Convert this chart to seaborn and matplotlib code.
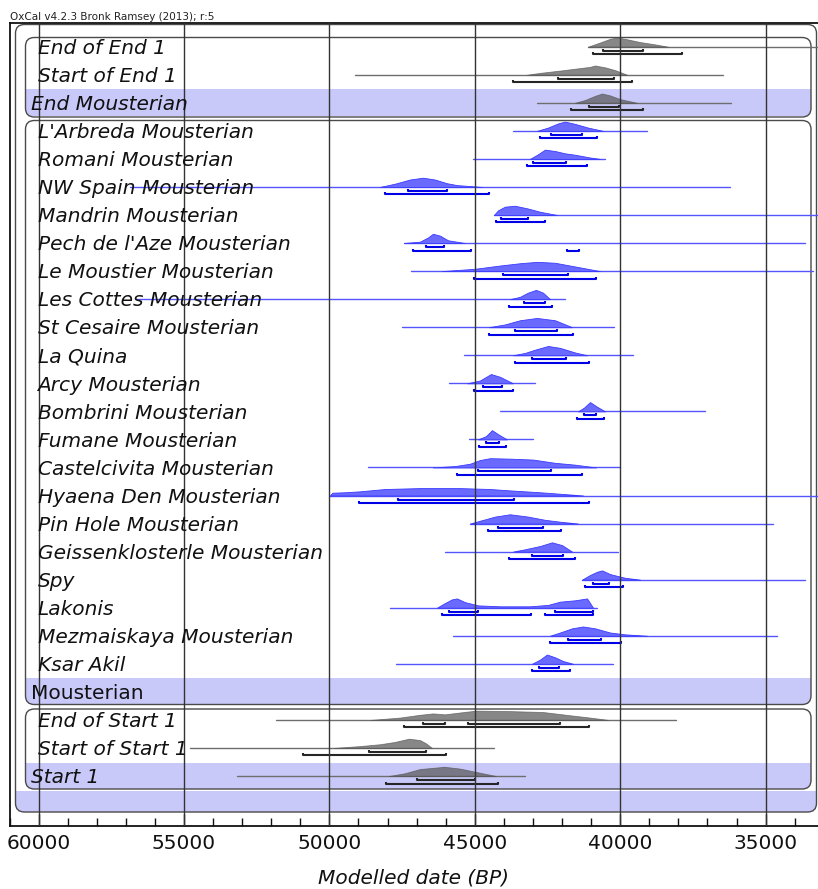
import matplotlib
matplotlib.use("Agg")
import numpy as np
import pandas as pd
import seaborn as sns
import matplotlib.pyplot as plt
from matplotlib.patches import FancyBboxPatch, Rectangle
from matplotlib.transforms import blended_transform_factory

# ---------------- data (years BP) ----------------
labels = ["End of End 1", "Start of End 1", "End Mousterian", "L'Arbreda Mousterian",
          "Romani Mousterian", "NW Spain Mousterian", "Mandrin Mousterian",
          "Pech de l'Aze Mousterian", "Le Moustier Mousterian", "Les Cottes Mousterian",
          "St Cesaire Mousterian", "La Quina", "Arcy Mousterian", "Bombrini Mousterian",
          "Fumane Mousterian", "Castelcivita Mousterian", "Hyaena Den Mousterian",
          "Pin Hole Mousterian", "Geissenklosterle Mousterian", "Spy", "Lakonis",
          "Mezmaiskaya Mousterian", "Ksar Akil", "Mousterian", "End of Start 1",
          "Start of Start 1", "Start 1", ""]

line_lo = [41108, 49123, 42862, 43688, 45064, 56863, 44342, 47437, 47196, 56622, 47506,
           45373, 45890, 44135, 45202, 48676, 49983, 45167, 46027, 41314, 47919, 45752,
           47712, None, 51841, 54799, 53182, None]
line_hi = [33000, 36464, 36189, 39078, 40523, 36223, 33000, 33644, 33367, 41899, 40214,
           39560, 42931, 37083, 43000, 40007, 33000, 34744, 40076, 33644, 40798, 34607,
           40248, None, 38080, 44342, 43275, None]

range68 = [[(40592, 39216)], [(42140, 40214)], [(41074, 40042)], [(42381, 41314)],
           [(43000, 41865)], [(47300, 45958)], [(44101, 43172)], [(46681, 46061)],
           [(44032, 41796)], [(43309, 42587)], [(43619, 42174)], [(43034, 41865)],
           [(44720, 44066)], [(41246, 40833)], [(44617, 44170)], [(44892, 42381)],
           [(47643, 43653)], [(44204, 42656)], [(43034, 41968)], [(40936, 40385)],
           [(45890, 44892), (42243, 40936)], [(41796, 40661)], [(42793, 42105)], [],
           [(46784, 46027), (45236, 42071)], [(48641, 46681)], [(46990, 44995)], []]

range95 = [[(40936, 37874)], [(43688, 39595)], [(41693, 39216)], [(42759, 40798)],
           [(43206, 41142)], [(48091, 44514)], [(44273, 42587)],
           [(47128, 45133), (41830, 41417)], [(45030, 40833)], [(43825, 42346)],
           [(44514, 41624)], [(43619, 41074)], [(45030, 43688)], [(41486, 40558)],
           [(44858, 43929)], [(45614, 41314)], [(48985, 41074)], [(44548, 42037)],
           [(43825, 41555)], [(41211, 39904)], [(46130, 43069), (42587, 40936)],
           [(42415, 39973)], [(43034, 41727)], [], [(47437, 41074)], [(50912, 45993)],
           [(48056, 44204)], []]

shape_x = [
    [41108, 40695, 40351, 40110, 39835, 39319, 38803, 38356],
    [43206, 42759, 42071, 41555, 41039, 40867, 40523, 40179, 39767],
    [41555, 41211, 40867, 40626, 40351, 40007, 39423],
    [42862, 42484, 42140, 41899, 41555, 41108, 40592],
    [43103, 42828, 42587, 42243, 41899, 41555, 41039, 40695],
    [48263, 47747, 47231, 46784, 46371, 45958, 45614, 44754],
    [44342, 44204, 43963, 43619, 43172, 42759, 42174],
    [47437, 46887, 46612, 46440, 46199, 45924, 45339],
    [46130, 44995, 44135, 43447, 42862, 42243, 41727, 41211, 40695],
    [43791, 43447, 43172, 42897, 42656, 42415],
    [44514, 43963, 43447, 42862, 42243, 41658],
    [43688, 43275, 42931, 42484, 42071, 41555, 41142],
    [45270, 44823, 44445, 44135, 43688],
    [41452, 41246, 41039, 40798, 40523],
    [44892, 44617, 44410, 44170, 43894],
    [46440, 45683, 45167, 44823, 44479, 43791, 43000, 42243, 41555, 40833],
    [49983, 49900, 49467, 48951, 48091, 46887, 45511, 44479, 43791, 42759, 41899, 41280],
    [45167, 44823, 44307, 43791, 43172, 42587, 42071, 41452],
    [43688, 43275, 42759, 42346, 42002, 41658],
    [41314, 41039, 40798, 40626, 40351, 39835, 39319],
    [46302, 46027, 45786, 45614, 45339, 44892, 44135, 43103, 42484, 42071, 41555, 41142, 40936],
    [42415, 42071, 41658, 41280, 40867, 40351, 39835, 39078],
    [43034, 42759, 42518, 42243, 41968, 41624],
    [],
    [48572, 47575, 46887, 46440, 46027, 45511, 44961, 43791, 42656, 41727, 41039, 40420],
    [49845, 48951, 48263, 47747, 47265, 46887, 46681, 46474],
    [47953, 47403, 46887, 46199, 46061, 45511, 44823, 44273],
    [],
]
shape_h = [
    [0, .45, .85, 1, .85, .5, .25, 0],
    [0, .2, .45, .65, .85, 1, .8, .5, 0],
    [0, .3, .75, 1, .8, .4, 0],
    [0, .35, .8, 1, .75, .35, 0],
    [0, .5, 1, .85, .6, .45, .15, 0],
    [0, .35, .8, 1, .8, .4, .2, 0],
    [0, .5, .9, 1, .7, .35, 0],
    [0, .15, .6, 1, .8, .3, 0],
    [0, .25, .6, .85, 1, .9, .6, .3, 0],
    [0, .25, .7, 1, .7, 0],
    [0, .3, .75, 1, .75, 0],
    [0, .25, .6, 1, .8, .3, 0],
    [0, .3, 1, .7, 0],
    [0, .4, 1, .5, 0],
    [0, .35, 1, .5, 0],
    [0, .15, .4, .8, 1, .95, .85, .5, .3, 0],
    [0, .3, .35, .45, .7, .8, .8, .7, .55, .35, .15, 0],
    [0, .3, .75, 1, .75, .4, .2, 0],
    [0, .25, .6, 1, .7, 0],
    [0, .5, .85, 1, .6, .2, 0],
    [0, .5, .9, 1, .6, .25, .15, .15, .3, .65, .8, 1, 0],
    [0, .35, .8, 1, .8, .35, .15, 0],
    [0, .45, 1, .7, .3, 0],
    [],
    [0, .25, .55, .7, .6, .8, 1, .95, .85, .5, .25, 0],
    [0, .2, .4, .65, 1, .85, .5, 0],
    [0, .3, .75, .95, 1, .8, .35, 0],
    [],
]

gray_rows = [0, 1, 2, 24, 25, 26]
band_rows = [2, 23, 26, 27]
upright_rows = [23]
shifted_label_rows = [2, 23, 26]

x_ticks = [60000, 55000, 50000, 45000, 40000, 35000]
x_minor = list(range(61000, 33000, -1000))

# ---------------- figure ----------------
sns.set_theme(style="white")
plt.rcParams["font.family"] = ["DejaVu Sans"]

W, H = 818, 889
fig = plt.figure(figsize=(W / 100, H / 100), dpi=100)
AX_L, AX_R, AX_T, AX_B = 9.5, 818.0, 23.3, 826.0
ax = fig.add_axes([AX_L / W, (H - AX_B) / H, (AX_R - AX_L) / W, (AX_B - AX_T) / H])

ROW0, ROWH = 46.7, 28.05
ax.set_xlim(61000, 33200)
ax.set_ylim((AX_B - ROW0) / ROWH, (AX_T - ROW0) / ROWH)


def fx(px):
    return (px - AX_L) / (AX_R - AX_L)


def fy(px):
    return (AX_B - px) / (AX_B - AX_T)


def rowpx(i):
    return ROW0 + ROWH * i


LAV = "#c9c9f9"
BOXC = "#4a4a4a"
RS = 0.011

# boxes (outer, end group, mousterian group, start group)
boxes_px = [(15.5, 24.5, 816.5, 812.0), (25.5, 37.5, 811.0, 117.0),
            (25.5, 120.5, 811.0, 704.5), (25.5, 709.0, 811.0, 789.0)]
patches = []
for (x0, y0, x1, y1) in boxes_px:
    p = FancyBboxPatch((fx(x0), fy(y1)), fx(x1) - fx(x0), fy(y0) - fy(y1),
                       boxstyle=f"round,pad=0,rounding_size={RS}",
                       transform=ax.transAxes, fill=False, ec=BOXC, lw=1.0,
                       zorder=2, clip_on=False)
    ax.add_patch(p)
    patches.append(p)

band_box = {2: 1, 23: 2, 26: 3, 27: 0}
for r in band_rows:
    c = rowpx(r)
    rect = Rectangle((0, fy(c + 13.5)), 1, fy(c - 13.5) - fy(c + 13.5),
                     transform=ax.transAxes, fc=LAV, ec="none", zorder=1)
    ax.add_patch(rect)
    rect.set_clip_path(patches[band_box[r]])

# gridlines
for t in x_ticks:
    ax.axvline(t, color="#333333", lw=1.0, zorder=6)

# thin likelihood/prior lines via seaborn
recs = []
for i in range(len(labels)):
    if line_lo[i] is None:
        continue
    kind = "gray" if i in gray_rows else "blue"
    recs.append({"x": line_lo[i], "y": i, "row": i, "kind": kind})
    recs.append({"x": line_hi[i], "y": i, "row": i, "kind": kind})
df = pd.DataFrame(recs)
sns.lineplot(data=df, x="x", y="y", units="row", estimator=None, hue="kind",
             palette={"gray": "#6e6e6e", "blue": "#5555ff"}, legend=False,
             sort=False, lw=1.0, ax=ax, zorder=3)

PEAK = 0.33
for i in range(len(labels)):
    gray = i in gray_rows
    if shape_x[i]:
        xs = np.array(shape_x[i], float)
        hs = np.array(shape_h[i], float)
        if gray:
            ax.fill_between(xs, i, i - hs * PEAK, color="#555555", alpha=0.7,
                            lw=0.6, zorder=4)
        else:
            ax.fill_between(xs, i, i - hs * PEAK, facecolor="#6a6aff",
                            edgecolor="#3a3aff", lw=0.6, zorder=4)
    bc = "#262626" if gray else "#0000e6"
    for (ranges, off) in ((range68[i], 4.0), (range95[i], 7.5)):
        y = i + off / ROWH
        tk = 2.0 / ROWH
        for (a, b) in ranges:
            ax.plot([a, a, b, b], [y - tk, y, y, y - tk], color=bc, lw=1.5,
                    zorder=5, solid_capstyle="butt")

# labels
tr = blended_transform_factory(ax.transAxes, ax.transData)
for i, lab in enumerate(labels):
    if not lab:
        continue
    xp = 31.0 if i in shifted_label_rows else 37.5
    ax.text(fx(xp), i + 0.26, lab, transform=tr, fontsize=14.5,
            style="normal" if i in upright_rows else "italic",
            va="baseline", ha="left", color="#111111", zorder=7)

# axes styling
ax.set_yticks([])
ax.set_xticks(x_ticks)
ax.set_xticklabels([str(t) for t in x_ticks])
ax.set_xticks(x_minor, minor=True)
ax.tick_params(axis="x", which="major", direction="in", length=9, width=1.0,
               labelsize=14.5, pad=6, bottom=True, colors="#111111")
ax.tick_params(axis="x", which="minor", direction="in", length=6, width=1.0,
               bottom=True, colors="#111111")
ax.set_xlabel("Modelled date (BP)", fontsize=14.5, style="italic", labelpad=11,
              color="#111111")
ax.set_ylabel("")
for s in ["left", "top", "bottom"]:
    ax.spines[s].set_visible(True)
    ax.spines[s].set_color("#111111")
    ax.spines[s].set_linewidth(1.3)
ax.spines["right"].set_visible(False)
ax.grid(False)

fig.text(10 / W, 1 - 16.5 / H, "OxCal v4.2.3 Bronk Ramsey (2013); r:5", fontsize=7.5,
         va="center", ha="left", color="#222222")

fig.savefig("out.png", dpi=100)
